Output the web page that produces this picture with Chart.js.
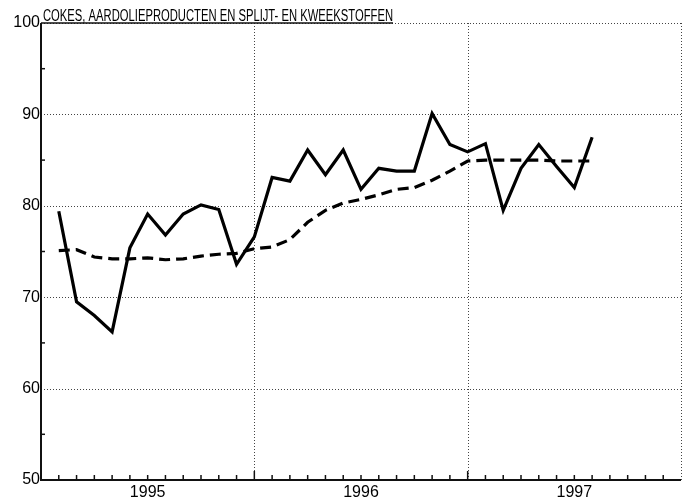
<!DOCTYPE html>
<html>
<head>
<meta charset="utf-8">
<script src="https://cdn.jsdelivr.net/npm/chart.js@4"></script>
<style>
  html, body { margin: 0; padding: 0; background: #fff; }
  #wrap { width: 688px; height: 501px; }
</style>
</head>
<body>
<div id="wrap"><canvas id="grafiek" width="688" height="501"></canvas></div>
<script>
const chartTitle = 'COKES, AARDOLIEPRODUCTEN EN SPLIJT- EN KWEEKSTOFFEN'
const yearLabels = ['1995', '1996', '1997']
const yearCenters = [6, 18, 30]
const yearBounds = [12, 24, 36]
const yGridValues = [60, 70, 80, 90, 100]
const yMinorValues = [55, 65, 75, 85, 95]

// maanden 1..31 (jan 1995 .. jul 1997)
const months = [1, 2, 3, 4, 5, 6, 7, 8, 9, 10, 11, 12, 13, 14, 15, 16,
    17, 18, 19, 20, 21, 22, 23, 24, 25, 26, 27, 28, 29, 30, 31]

const indexValues = [79.4, 69.5, 68.0, 66.2, 75.4, 79.1, 76.8, 79.1, 80.1, 79.6, 73.6, 76.6,
    83.1, 82.7, 86.1, 83.4, 86.1, 81.8, 84.1, 83.8, 83.8, 90.1, 86.7, 85.9,
    86.8, 79.5, 84.1, 86.7, 84.3, 82.0, 87.5]

const trendValues = [75.1, 75.2, 74.4, 74.2, 74.2, 74.3, 74.1, 74.2, 74.5, 74.7, 74.8, 75.3,
    75.5, 76.3, 78.2, 79.5, 80.3, 80.7, 81.2, 81.8, 82.0, 82.8, 83.8, 84.9,
    85.0, 85.0, 85.0, 85.0, 84.9, 84.9, 84.9]

const FONT = "'Liberation Sans', Arial, sans-serif"
const TITLE_WIDTH = 350 // de titel is in het origineel smal gezet

function toPoints(arr) {
    return arr.map((v, i) => ({ x: months[i], y: v }))
}

// dotted grid, inner tick marks and the title, drawn from the scales
const decorations = {
    id: 'decorations',
    beforeDatasetsDraw(chart) {
        const ctx = chart.ctx
        const area = chart.chartArea
        const xs = chart.scales.x
        const ys = chart.scales.y
        ctx.save()
        ctx.strokeStyle = '#444'
        ctx.lineWidth = 1
        ctx.setLineDash([1, 2])
        yGridValues.forEach(v => {
            const y = Math.round(ys.getPixelForValue(v)) + 0.5
            ctx.beginPath()
            ctx.moveTo(area.left, y)
            ctx.lineTo(area.right, y)
            ctx.stroke()
        })
        yearBounds.forEach(v => {
            const x = Math.round(xs.getPixelForValue(v)) + 0.5
            ctx.beginPath()
            ctx.moveTo(x, area.top)
            ctx.lineTo(x, area.bottom)
            ctx.stroke()
        })
        ctx.setLineDash([])
        ctx.strokeStyle = '#111'
        ctx.lineWidth = 1.5
        // maand-streepjes
        for (let m = 1; m < 36; m++) {
            const x = xs.getPixelForValue(m)
            const len = (m % 12 === 0) ? 9 : 5
            ctx.beginPath()
            ctx.moveTo(x, area.bottom)
            ctx.lineTo(x, area.bottom - len)
            ctx.stroke()
        }
        yMinorValues.forEach(v => {
            const y = ys.getPixelForValue(v)
            ctx.beginPath()
            ctx.moveTo(area.left, y)
            ctx.lineTo(area.left + 4, y)
            ctx.stroke()
        })
        // assen
        ctx.lineWidth = 2
        ctx.beginPath()
        ctx.moveTo(area.left, area.top)
        ctx.lineTo(area.left, area.bottom)
        ctx.lineTo(area.right, area.bottom)
        ctx.stroke()
        // titel, horizontaal versmald
        ctx.fillStyle = '#000'
        ctx.font = '16px ' + FONT
        ctx.textBaseline = 'alphabetic'
        ctx.textAlign = 'left'
        const w = ctx.measureText(chartTitle).width
        const sx = TITLE_WIDTH / w
        ctx.save()
        ctx.translate(area.left + 2, area.top - 2)
        ctx.scale(sx, 1)
        ctx.fillText(chartTitle, 0, 0)
        ctx.restore()
        ctx.lineWidth = 1.5
        ctx.beginPath()
        ctx.moveTo(area.left, area.top)
        ctx.lineTo(area.left + TITLE_WIDTH + 2, area.top)
        ctx.stroke()
        ctx.restore()
    }
}

const ctx = document.getElementById('grafiek')

new Chart(ctx, {
    type: 'line',
    data: {
        datasets: [{
            label: 'index',
            data: toPoints(indexValues),
            borderColor: '#000',
            borderWidth: 3.2,
            pointRadius: 0,
            tension: 0,
            fill: false
        }, {
            label: 'trend',
            data: toPoints(trendValues),
            borderColor: '#000',
            borderWidth: 3.2,
            borderDash: [11, 6],
            pointRadius: 0,
            tension: 0,
            fill: false
        }]
    },
    plugins: [decorations],
    options: {
        responsive: false,
        animation: false,
        layout: { padding: { top: 23, right: 7, left: 0, bottom: 0 } },
        plugins: {
            legend: { display: false },
            tooltip: { enabled: false },
            title: { display: false }
        },
        scales: {
            x: {
                type: 'linear',
                min: 0,
                max: 36,
                afterBuildTicks(scale) {
                    scale.ticks = yearCenters.map(v => ({ value: v }))
                },
                afterFit(scale) { scale.height = 21 },
                ticks: {
                    autoSkip: false,
                    maxRotation: 0,
                    padding: 3,
                    color: '#000',
                    font: { family: FONT, size: 16 },
                    callback: (value) => yearLabels[yearCenters.indexOf(value)] || ''
                },
                grid: { display: false, drawTicks: false },
                border: { display: false }
            },
            y: {
                min: 50,
                max: 100,
                afterFit(scale) { scale.width = 41 },
                ticks: {
                    stepSize: 10,
                    padding: 1,
                    color: '#000',
                    font: { family: FONT, size: 16 }
                },
                grid: { display: false, drawTicks: false },
                border: { display: false }
            }
        }
    }
})
</script>
</body>
</html>
